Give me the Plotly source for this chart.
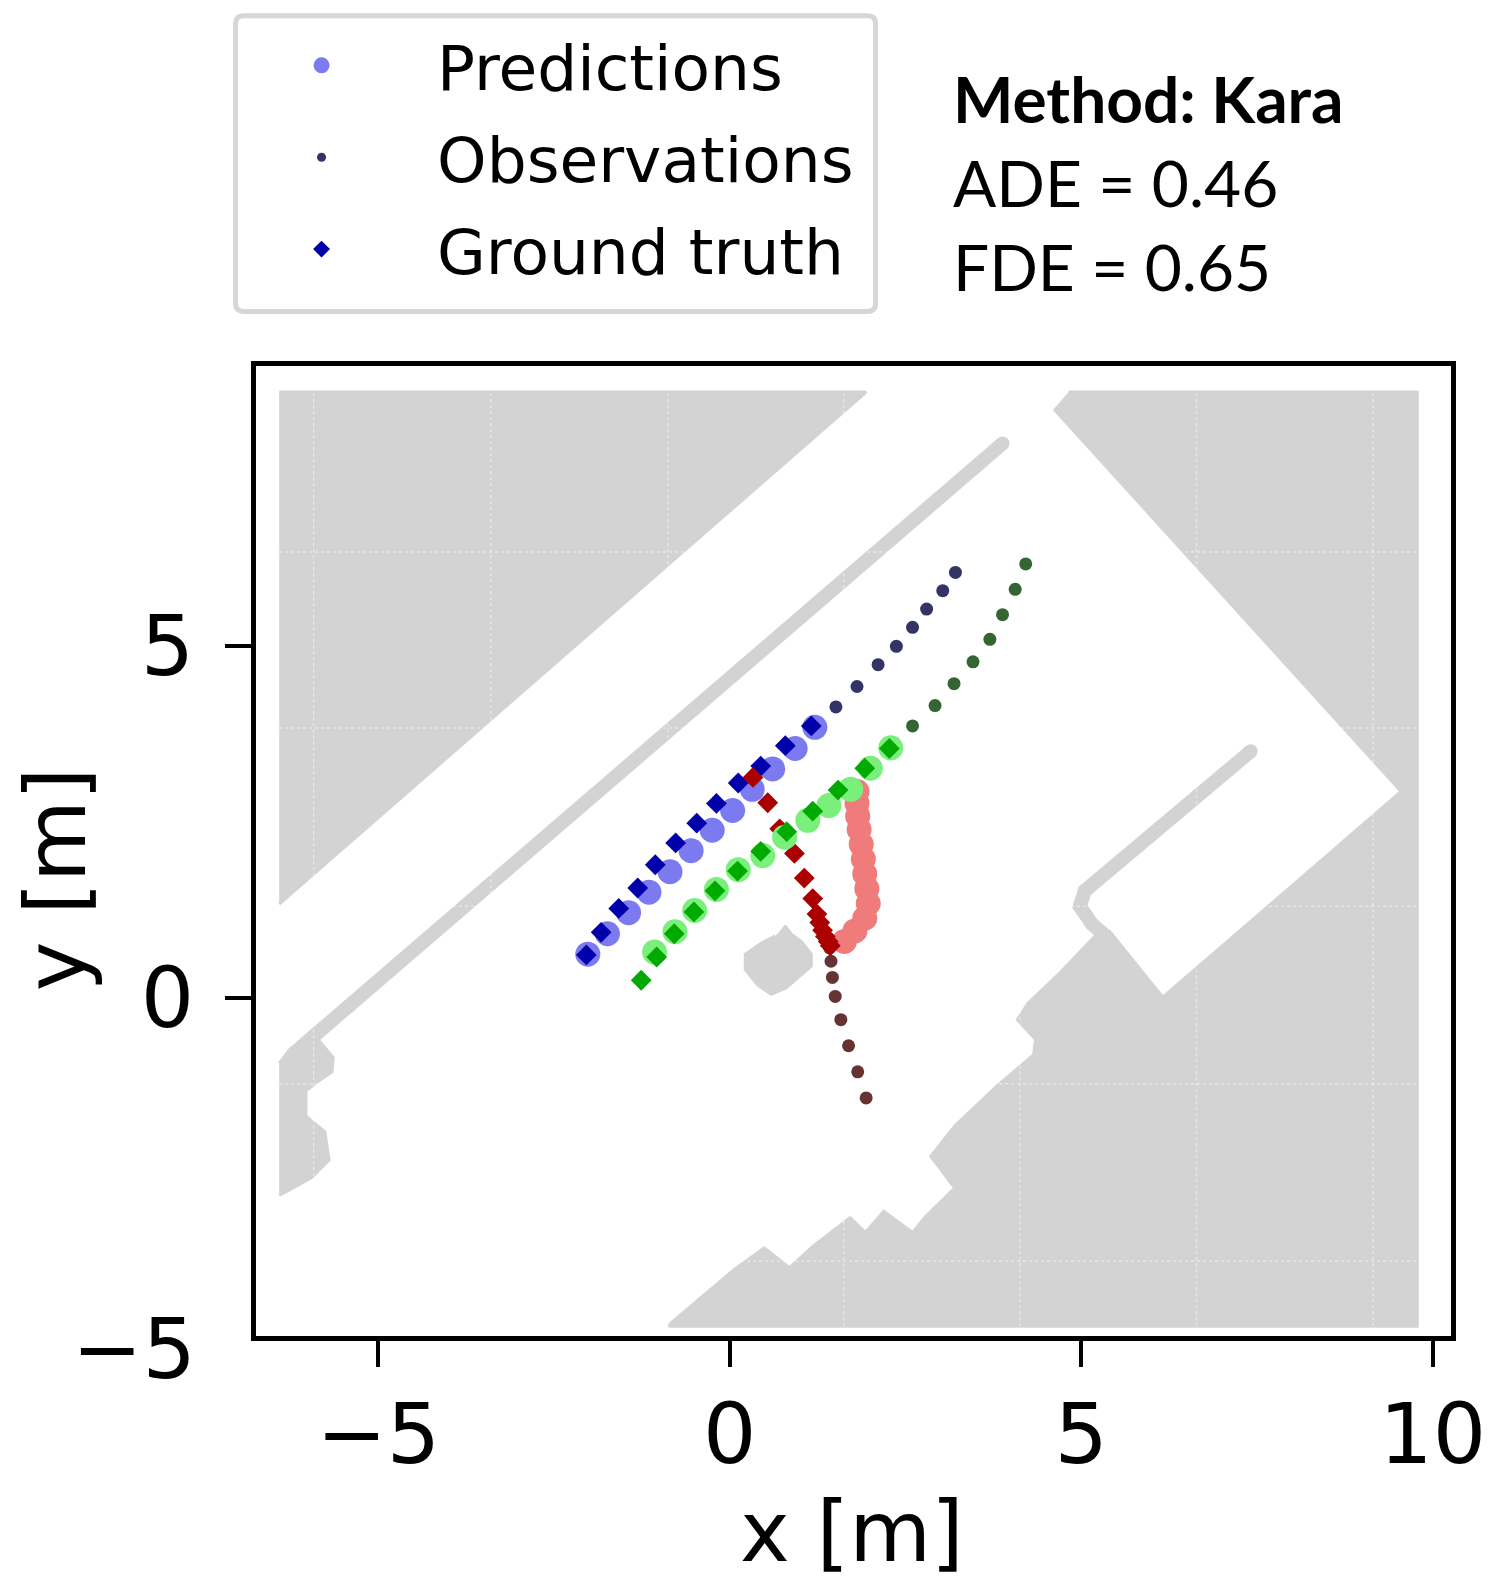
import plotly.graph_objects as go

# ---------------- trajectories (metres) ----------------
blue_obs_x = [3.21, 3.03, 2.80, 2.60, 2.37, 2.11, 1.81, 1.51]
blue_obs_y = [6.04, 5.78, 5.52, 5.26, 4.99, 4.73, 4.42, 4.13]
blue_gt_x = [1.16, 0.79, 0.44, 0.12, -0.19, -0.47, -0.77, -1.06, -1.31, -1.58, -1.83, -2.04]
blue_gt_y = [3.86, 3.58, 3.29, 3.05, 2.76, 2.48, 2.20, 1.89, 1.56, 1.27, 0.93, 0.61]
blue_pred_x = [1.21, 0.93, 0.61, 0.32, 0.04, -0.25, -0.55, -0.85, -1.15, -1.44, -1.74, -2.02]
blue_pred_y = [3.84, 3.54, 3.25, 2.96, 2.66, 2.38, 2.09, 1.79, 1.50, 1.21, 0.91, 0.62]

red_obs_x = [1.94, 1.82, 1.69, 1.58, 1.50, 1.46, 1.44, 1.42]
red_obs_y = [-1.42, -1.05, -0.68, -0.31, 0.02, 0.29, 0.52, 0.71]
red_gt_x = [1.43, 1.40, 1.36, 1.32, 1.28, 1.24, 1.18, 1.06, 0.92, 0.71, 0.54, 0.33]
red_gt_y = [0.74, 0.80, 0.87, 0.96, 1.07, 1.19, 1.41, 1.70, 2.05, 2.40, 2.77, 3.13]
red_pred_x = [1.63, 1.78, 1.92, 1.97, 1.95, 1.92, 1.90, 1.87, 1.84, 1.82, 1.81, 1.81]
red_pred_y = [0.80, 0.95, 1.13, 1.34, 1.55, 1.76, 1.97, 2.18, 2.39, 2.58, 2.76, 2.93]

green_obs_x = [4.21, 4.06, 3.88, 3.70, 3.46, 3.19, 2.92, 2.60]
green_obs_y = [6.16, 5.80, 5.44, 5.09, 4.77, 4.46, 4.15, 3.86]
green_gt_x = [2.27, 1.92, 1.54, 1.18, 0.81, 0.44, 0.11, -0.21, -0.51, -0.79, -1.04, -1.26]
green_gt_y = [3.54, 3.26, 2.95, 2.65, 2.36, 2.08, 1.80, 1.52, 1.22, 0.91, 0.58, 0.25]
green_pred_x = [2.29, 2.00, 1.72, 1.41, 1.11, 0.78, 0.47, 0.12, -0.19, -0.50, -0.78, -1.07]
green_pred_y = [3.55, 3.26, 2.96, 2.73, 2.52, 2.28, 2.02, 1.82, 1.54, 1.24, 0.94, 0.65]

# ---------------- static map (occupied areas, metres) ----------------
map_topleft_x = [-6.41, 1.94, -6.41]
map_topleft_y = [8.60, 8.60, 1.33]

map_right_x = [4.82, 9.78, 9.78, -0.87, -0.83, 0.07, 0.49, 0.85, 1.19, 1.71, 1.93, 2.19, 2.60,
               2.79, 3.20, 2.86, 3.20, 3.79, 4.32, 4.35, 4.09, 4.24, 4.69, 5.20, 5.40, 6.16,
               9.55, 4.61]
map_right_y = [8.60, 8.60, -4.66, -4.66, -4.61, -3.85, -3.55, -3.83, -3.52, -3.12, -3.33, -3.03,
               -3.33, -3.10, -2.70, -2.25, -1.82, -1.26, -0.81, -0.59, -0.31, -0.08, 0.35, 0.88,
               0.95, 0.01, 2.93, 8.36]

map_leftblob_x = [-6.41, -6.25, -6.10, -5.85, -5.64, -5.66, -5.85, -6.03, -6.03, -5.76, -5.70,
                  -5.95, -6.25, -6.41]
map_leftblob_y = [-0.93, -0.72, -0.62, -0.60, -0.85, -1.05, -1.18, -1.32, -1.68, -1.90, -2.30,
                  -2.55, -2.72, -2.80]

map_island_x = [0.78, 0.88, 1.02, 1.16, 1.16, 0.98, 0.80, 0.59, 0.40, 0.22, 0.22, 0.45, 0.65]
map_island_y = [1.03, 0.90, 0.80, 0.62, 0.45, 0.30, 0.14, 0.05, 0.18, 0.40, 0.62, 0.78, 0.88]

wall_long_x = [3.88, -6.10]
wall_long_y = [7.87, -0.70]
wall_inner_x = [7.41, 5.05, 4.98, 5.15, 5.30]
wall_inner_y = [3.50, 1.52, 1.30, 1.05, 0.92]

map_grid_x = [-5.92, -3.40, -0.88, 1.62, 4.13, 6.64, 9.15]
map_grid_y = [-3.74, -1.22, 1.30, 3.83, 6.33]
map_x_extent = [-6.41, 9.78]
map_y_extent = [-4.66, 8.60]

x_ticks = [-5, 0, 5, 10]
y_ticks = [0, 5]
y_extra_tick = -5
x_range = [-6.74, 10.26]
y_range = [-4.80, 8.97]

legend_names = ["Predictions", "Observations", "Ground truth"]
metric_lines = ["<b>Method: Kara</b>", "ADE = 0.46", "FDE = 0.65"]

MAP = "#d3d3d3"
fig = go.Figure()

# map areas
for mx, my in [(map_topleft_x, map_topleft_y), (map_right_x, map_right_y),
               (map_leftblob_x, map_leftblob_y), (map_island_x, map_island_y)]:
    fig.add_trace(go.Scatter(x=mx, y=my, mode="lines", fill="toself", fillcolor=MAP,
                             line=dict(color=MAP, width=3), showlegend=False, hoverinfo="skip"))
for wx, wy in [(wall_long_x, wall_long_y), (wall_inner_x, wall_inner_y)]:
    fig.add_trace(go.Scatter(x=wx, y=wy, mode="lines+markers",
                             line=dict(color=MAP, width=14),
                             marker=dict(color=MAP, size=14),
                             showlegend=False, hoverinfo="skip"))
# faint grid over the map
GRID = "rgba(255,255,255,0.45)"
for gx in map_grid_x:
    fig.add_trace(go.Scatter(x=[gx, gx], y=map_y_extent, mode="lines",
                             line=dict(color=GRID, width=1.5, dash="dot"),
                             showlegend=False, hoverinfo="skip"))
for gy in map_grid_y:
    fig.add_trace(go.Scatter(x=map_x_extent, y=[gy, gy], mode="lines",
                             line=dict(color=GRID, width=1.5, dash="dot"),
                             showlegend=False, hoverinfo="skip"))

agents = [
    (blue_pred_x, blue_pred_y, blue_obs_x, blue_obs_y, blue_gt_x, blue_gt_y,
     "#7b7bef", "#333366", "#0000aa"),
    (red_pred_x, red_pred_y, red_obs_x, red_obs_y, red_gt_x, red_gt_y,
     "#f07b7b", "#663333", "#aa0000"),
    (green_pred_x, green_pred_y, green_obs_x, green_obs_y, green_gt_x, green_gt_y,
     "#7bef7b", "#336633", "#00aa00"),
]
for px, py, ox, oy, gx, gy, cp, co, cg in agents:
    fig.add_trace(go.Scatter(x=px, y=py, mode="markers", showlegend=False,
                             marker=dict(symbol="circle", size=25, color=cp, line=dict(width=0))))
    fig.add_trace(go.Scatter(x=ox, y=oy, mode="markers", showlegend=False,
                             marker=dict(symbol="circle", size=13, color=co, line=dict(width=0))))
    fig.add_trace(go.Scatter(x=gx, y=gy, mode="markers", showlegend=False,
                             marker=dict(symbol="diamond", size=16, color=cg, line=dict(width=0))))

# legend entries
leg_sym = ["circle", "circle", "diamond"]
leg_col = ["#7b7bef", "#333366", "#0000aa"]
leg_size = [19, 9, 13]
for name, s, c, sz in zip(legend_names, leg_sym, leg_col, leg_size):
    fig.add_trace(go.Scatter(x=[None], y=[None], mode="markers", name=name, legendgroup=name,
                             marker=dict(symbol=s, color=c, size=sz, line=dict(width=0))))

FONT = "DejaVu Sans"
axis_common = dict(showline=True, mirror=True, linecolor="black", linewidth=5,
                   ticks="outside", ticklen=26, tickwidth=4, tickcolor="black",
                   showgrid=False, zeroline=False,
                   tickfont=dict(family=FONT, size=84, color="black"))
fig.update_xaxes(range=x_range, tickvals=x_ticks, ticklabelstandoff=-5, **axis_common)
fig.update_yaxes(range=y_range, tickvals=y_ticks, ticklabelstandoff=14, **axis_common)

annotations = [
    dict(text="x [m]", xref="paper", yref="paper", x=0.4986, y=-0.2018, showarrow=False,
         xanchor="center", yanchor="middle", font=dict(family=FONT, size=84, color="black")),
    dict(text="y [m]", xref="paper", yref="paper", x=-0.1672, y=0.4711, showarrow=False,
         textangle=-90, xanchor="center", yanchor="middle",
         font=dict(family=FONT, size=84, color="black")),
    # tick label sitting just below the y-axis range (as in the original figure)
    dict(text="\u2212%d" % abs(y_extra_tick), xref="paper", yref="paper", x=0, y=-0.0134,
         xshift=-58, showarrow=False, xanchor="right", yanchor="middle",
         font=dict(family=FONT, size=84, color="black")),
]
for txt, ypos in zip(metric_lines, [1.2758, 1.1889, 1.1030]):
    annotations.append(dict(text=txt, xref="paper", yref="paper", x=0.5813, y=ypos,
                            showarrow=False, xanchor="left", yanchor="middle",
                            font=dict(family="Lato", size=64, color="black")))

# rounded legend frame
x0, x1, y0, y1 = -0.0171, 0.5185, 1.0562, 1.3610
rx, ry = 0.0067, 0.0082
frame_path = (f"M{x0 + rx},{y1} L{x1 - rx},{y1} Q{x1},{y1} {x1},{y1 - ry} "
              f"L{x1},{y0 + ry} Q{x1},{y0} {x1 - rx},{y0} L{x0 + rx},{y0} "
              f"Q{x0},{y0} {x0},{y0 + ry} L{x0},{y1 - ry} Q{x0},{y1} {x0 + rx},{y1} Z")

fig.update_layout(
    width=1501, height=1593,
    margin=dict(l=248, r=58, t=358, b=265, autoexpand=False),
    plot_bgcolor="white", paper_bgcolor="white",
    legend=dict(x=-0.0418, y=1.3589, xanchor="left", yanchor="top",
                font=dict(family=FONT, size=63, color="black"),
                bgcolor="rgba(0,0,0,0)", borderwidth=0,
                itemwidth=221, traceorder="grouped", tracegroupgap=7),
    shapes=[dict(type="path", xref="paper", yref="paper", path=frame_path,
                 fillcolor="white", line=dict(color="#d6d6d6", width=5), layer="above")],
    annotations=annotations,
    showlegend=True,
)

fig.write_html("out.html")
